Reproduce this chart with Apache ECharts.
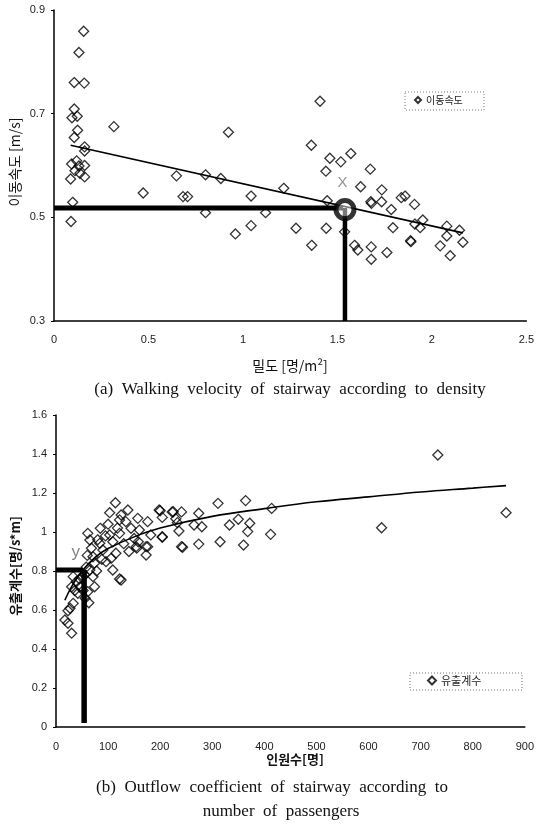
<!DOCTYPE html>
<html><head><meta charset="utf-8">
<script src="https://cdn.jsdelivr.net/npm/echarts@6/dist/echarts.min.js"></script>
<style>html,body{margin:0;padding:0;background:#fff}#c{width:537px;height:824px}</style>
</head><body><div id="c"></div>
<script>
// ---- Chart (a): walking velocity vs density ----
const densityTicks = [0, 0.5, 1, 1.5, 2, 2.5];
const velocityTicks = [0.3, 0.5, 0.7, 0.9];
const velocityPoints = [
 [0.157,0.859],[0.132,0.818],[0.107,0.760],[0.160,0.759],[0.107,0.709],[0.095,0.692],[0.123,0.695],[0.125,0.668],
 [0.107,0.654],[0.317,0.675],[0.162,0.636],[0.162,0.628],[0.093,0.603],[0.120,0.609],[0.132,0.599],[0.162,0.600],
 [0.111,0.590],[0.137,0.585],[0.088,0.574],[0.162,0.578],[0.472,0.547],[0.099,0.529],[0.090,0.492],
 [1.408,0.724],[0.923,0.664],[1.362,0.639],[1.460,0.614],[1.518,0.607],[1.439,0.589],[0.648,0.580],[0.802,0.582],
 [0.883,0.575],[1.216,0.556],[0.683,0.540],[0.707,0.540],[1.043,0.541],[1.446,0.532],[0.802,0.509],[1.120,0.509],
 [1.043,0.484],[0.960,0.468],[1.281,0.479],[1.441,0.479],[1.364,0.446],[1.538,0.472],
 [1.571,0.623],[1.674,0.593],[1.623,0.559],[1.735,0.553],[1.677,0.530],[1.680,0.527],[1.734,0.530],[1.838,0.538],
 [1.858,0.541],[1.908,0.525],[1.785,0.515],[1.952,0.495],[1.910,0.487],[1.938,0.480],[1.794,0.480],[2.079,0.483],
 [2.146,0.475],[2.079,0.464],[2.164,0.452],[1.887,0.455],[1.889,0.453],[2.044,0.445],[2.097,0.426],[1.591,0.446],
 [1.608,0.437],[1.679,0.443],[1.679,0.419],[1.762,0.432]
];
const velocityTrend = [[0.088,0.639],[2.164,0.470]];
const velocityRefH = [[0,0.518],[1.53,0.518]];
const velocityRefV = [[1.54,0.518],[1.54,0.3]];
const velocityRefCircle = [[1.54,0.515]];
const velocityXMark = [[1.527,0.566]];

// ---- Chart (b): outflow coefficient vs number of passengers ----
const passengerTicks = [0,100,200,300,400,500,600,700,800,900];
const outflowTicks = [0,0.2,0.4,0.6,0.8,1,1.2,1.4,1.6];
const outflowPoints = [
 [114,1.150],[103,1.099],[138,1.113],[125,1.087],[122,1.062],[134,1.053],[157,1.070],[176,1.053],[198,1.113],
 [225,1.104],[204,1.075],[233,1.048],[144,1.019],[160,1.010],[85,1.019],[61,0.993],[103,0.985],[122,0.993],
 [182,0.985],[204,0.973],[65,0.959],[84,0.942],[109,0.950],[150,0.967],[158,0.950],[173,0.925],[155,0.917],
 [68,0.917],[90,0.908],[115,0.891],[106,0.865],[71,0.873],[96,0.848],[74,0.840],[109,0.805],[122,0.759],
 [65,0.805],[71,0.771],[33,0.771],[39,0.745],[52,0.771],[30,0.719],[46,0.719],[74,0.719],[61,0.694],[42,0.686],
 [63,0.637],[33,0.634],[27,0.609],[23,0.596],[17,0.549],[23,0.532],[30,0.481],
 [200,1.109],[223,1.103],[241,1.103],[230,1.068],[274,1.096],[311,1.147],[364,1.161],[350,1.065],[333,1.036],
 [372,1.045],[368,1.002],[360,0.933],[315,0.950],[274,0.938],[265,1.036],[280,1.027],[236,1.005],[241,0.925],
 [243,0.922],[204,0.976],[176,0.925],[154,0.925],[125,0.754],[173,0.882],
 [733,1.395],[864,1.099],[414,1.121],[412,0.988],[625,1.022],
 [55,0.78],[58,0.82],[52,0.70],[56,0.66],[60,0.88],[80,0.96],[95,0.98],[100,1.04],[118,1.02],[130,0.94],
 [140,0.90],[88,0.86],[78,0.80],[45,0.76],[36,0.70]
];
const outflowTrend = [[17,0.65],[30,0.72],[50,0.80],[75,0.87],[100,0.915],[150,0.975],[200,1.02],[300,1.08],
 [400,1.12],[500,1.155],[600,1.18],[700,1.205],[800,1.225],[864,1.238]];
const outflowRefH = [[0,0.805],[52,0.805]];
const outflowRefV = [[54,0.805],[54,0.02]];
const outflowYMark = [[38,0.897]];

const chart = echarts.init(document.getElementById('c'), null, {renderer:'canvas'});
const axisFont = {fontFamily:'Liberation Sans', fontSize:11, color:'#222'};
const hollow = {color:'rgba(0,0,0,0)', borderColor:'#000', borderWidth:1.3};
function valAxis(gi, min, max, ticks, margin, isY){
  return {
    type:'value', gridIndex:gi, min:min, max:max, interval: isY && gi===0 ? 0.1 : (ticks[1]-ticks[0]),
    axisLine:{show:true, onZero:false, lineStyle:{color:'#000', width:1.5}},
    axisTick:{show:isY, length:3, lineStyle:{color:'#000'}, customValues: ticks},
    axisLabel:Object.assign({margin:margin, customValues: ticks}, axisFont),
    splitLine:{show:false}
  };
}
const option = {
  animation:false,
  grid:[
    {left:54, right:10, top:10, height:311},
    {left:56, right:8, top:415, height:312}
  ],
  xAxis:[ valAxis(0,0,2.5,densityTicks,13,false), valAxis(1,0,900,passengerTicks,14,false) ],
  yAxis:[ valAxis(0,0.3,0.9,velocityTicks,9,true), valAxis(1,0,1.6,outflowTicks,9,true) ],
  legend:[
    {data:['이동속도'], left:414, top:95, itemWidth:6, itemHeight:6, itemGap:4, padding:0,
     textStyle:{fontFamily:'Noto Sans CJK KR', fontSize:10, color:'#222'}},
    {data:['유출계수'], left:427, top:675, itemWidth:8, itemHeight:8, itemGap:10, padding:0,
     textStyle:{fontFamily:'Noto Sans CJK KR', fontSize:11, color:'#222'}}
  ],
  series:[
    {name:'이동속도', type:'scatter', xAxisIndex:0, yAxisIndex:0, data:velocityPoints, symbol:'diamond', symbolSize:10, itemStyle:hollow, z:3},
    {type:'line', xAxisIndex:0, yAxisIndex:0, data:velocityTrend, symbol:'none', lineStyle:{color:'#000', width:1.6}, z:2},
    {type:'line', xAxisIndex:0, yAxisIndex:0, data:velocityRefH, symbol:'none', lineStyle:{color:'#000', width:5}, z:4},
    {type:'line', xAxisIndex:0, yAxisIndex:0, data:velocityRefV, symbol:'none', lineStyle:{color:'#000', width:4.5}, z:4},
    {type:'scatter', xAxisIndex:0, yAxisIndex:0, data:velocityRefCircle, symbol:'circle', symbolSize:18,
     itemStyle:{color:'rgba(255,255,255,0.6)', borderColor:'#000', borderWidth:5}, z:5},
    {type:'scatter', xAxisIndex:0, yAxisIndex:0, data:velocityXMark, symbolSize:0, silent:true,
     label:{show:true, position:'inside', formatter:'X', fontFamily:'Liberation Sans', fontSize:15, color:'#777'}, z:5},

    {name:'유출계수', type:'scatter', xAxisIndex:1, yAxisIndex:1, data:outflowPoints, symbol:'diamond', symbolSize:10, itemStyle:hollow, z:3},
    {type:'line', xAxisIndex:1, yAxisIndex:1, data:outflowTrend, symbol:'none', smooth:0.4, lineStyle:{color:'#000', width:1.6}, z:2},
    {type:'line', xAxisIndex:1, yAxisIndex:1, data:outflowRefH, symbol:'none', lineStyle:{color:'#000', width:5}, z:4},
    {type:'line', xAxisIndex:1, yAxisIndex:1, data:outflowRefV, symbol:'none', lineStyle:{color:'#000', width:5.5}, z:4},
    {type:'scatter', xAxisIndex:1, yAxisIndex:1, data:outflowYMark, symbolSize:0, silent:true,
     label:{show:true, position:'inside', formatter:'y', fontFamily:'Liberation Sans', fontSize:17, color:'#666'}, z:5}
  ],
  graphic:[
    {type:'rect', shape:{x:405, y:92, width:79, height:18}, style:{fill:'none', stroke:'#777', lineWidth:1, lineDash:[1,2]}},
    {type:'rect', shape:{x:410, y:673, width:112, height:17}, style:{fill:'none', stroke:'#777', lineWidth:1, lineDash:[1,2]}},
    {type:'text', x:15, y:162, rotation:Math.PI/2, style:{text:'이동속도 [m/s]', font:'14px "Noto Sans CJK KR"', fill:'#111', align:'center', verticalAlign:'middle'}},
    {type:'text', x:290, y:366, style:{text:'밀도 [명/m²]', font:'14px "Noto Sans CJK KR"', fill:'#111', align:'center', verticalAlign:'middle'}},
    {type:'text', x:290, y:390, style:{text:'(a)  Walking  velocity  of  stairway  according  to  density', font:'17px "Liberation Serif"', fill:'#111', align:'center', verticalAlign:'middle'}},
    {type:'text', x:15, y:566, rotation:Math.PI/2, style:{text:'유출계수[명/s*m]', font:'bold 13px "Noto Sans CJK KR"', fill:'#111', align:'center', verticalAlign:'middle'}},
    {type:'text', x:295, y:759, style:{text:'인원수[명]', font:'bold 13px "Noto Sans CJK KR"', fill:'#111', align:'center', verticalAlign:'middle'}},
    {type:'text', x:272, y:788, style:{text:'(b)  Outflow  coefficient  of  stairway  according  to', font:'17px "Liberation Serif"', fill:'#111', align:'center', verticalAlign:'middle'}},
    {type:'text', x:281, y:812, style:{text:'number  of  passengers', font:'17px "Liberation Serif"', fill:'#111', align:'center', verticalAlign:'middle'}}
  ]
};
chart.setOption(option);
</script></body></html>
